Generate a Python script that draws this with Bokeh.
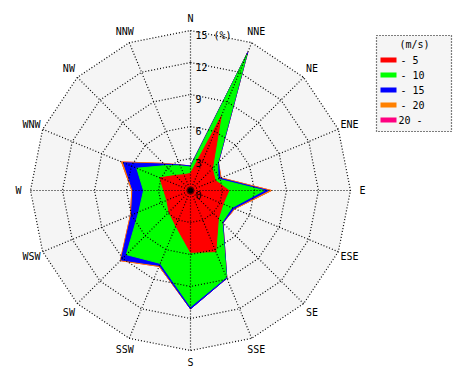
import numpy as np
from bokeh.plotting import figure
from bokeh.models import Range1d
from bokeh.core.properties import value
from bokeh.embed import file_html
from bokeh.resources import INLINE

# ---- data (frequency %, per wind-speed class) ----
directions = ["N", "NNE", "NE", "ENE", "E", "ESE", "SE", "SSE",
              "S", "SSW", "SW", "WSW", "W", "WNW", "NW", "NNW"]
speed_0_5 = [1.6, 7.5, 2.9, 2.5, 3.6, 3.3, 3.7, 6.2, 5.8, 3.6, 2.85, 2.4, 2.5, 3.1, 2.0, 1.6]
speed_5_10 = [0.6, 6.3, 0.7, 0.3, 3.3, 0.9, 0.5, 2.6, 5.1, 3.8, 5.65, 2.85, 1.9, 2.35, 1.3, 0.9]
speed_10_15 = [0.1, 0.2, 0.1, 0.2, 0.4, 0.2, 0.1, 0.1, 0.2, 0.2, 0.7, 0.75, 1.0, 1.35, 0.2, 0.1]
speed_15_20 = [0.0, 0.0, 0.0, 0.1, 0.3, 0.1, 0.0, 0.0, 0.0, 0.1, 0.1, 0.1, 0.1, 0.2, 0.1, 0.0]
speed_20_up = [0.0] * 16
class_labels = ["- 5", "- 10", "- 15", "- 20", "20 -"]
class_colors = ["#ff0000", "#00ff00", "#0000ff", "#ff8000", "#ff0080"]
ring_values = [3, 6, 9, 12, 15]
ring_labels = ["3", "6", "9", "12", "15 (%)"]

# ---- geometry ----
W, H = 462, 372
CX, CY = 190, 190          # centre in frame pixels
K = 160 / 15               # pixels per percent

def P(xs, ys):
    return ((xs - CX) / K, (CY - ys) / K)

p = figure(width=W, height=H, output_backend="svg", toolbar_location=None,
           x_range=Range1d(-CX / K, (W - CX) / K),
           y_range=Range1d(-(H - CY) / K, CY / K),
           min_border=0, outline_line_color=None)
p.axis.visible = False
p.grid.visible = False
p.background_fill_color = "white"
p.border_fill_color = "white"

theta = np.deg2rad(np.arange(16) * 22.5)
sx, cy_ = np.sin(theta), np.cos(theta)

def ring(r):
    return list(r * sx) + [r * sx[0]], list(r * cy_) + [r * cy_[0]]

# background disc (16-gon)
bx, by = ring(15)
p.patch(bx, by, fill_color="#f5f5f5", line_color=None)

# stacked rose
classes = [speed_0_5, speed_5_10, speed_10_15, speed_15_20, speed_20_up]
cum = np.cumsum(np.array(classes), axis=0)
for i in range(4, -1, -1):
    r = cum[i]
    p.patch(list(r * sx), list(r * cy_), fill_color=class_colors[i],
            line_color=class_colors[i], line_width=1)

# grid rings and spokes
for rv in ring_values:
    gx, gy = ring(rv)
    p.line(gx, gy, line_color="black", line_dash="1 2", line_width=1.2)
for i in range(16):
    p.line([0, 15 * sx[i]], [0, 15 * cy_[i]], line_color="black",
           line_dash="1 2", line_width=1.2)
p.scatter([0], [0], size=5, color="black")

# direction labels
R = 172 / K
p.text(list(R * sx), list(R * cy_), text=directions,
       text_align="center", text_baseline="middle",
       text_font=value("DejaVu Sans Mono"), text_font_size="10px",
       text_color="black")

# ring value labels
p.text([5 / K] * 6, [0 - 4.5 / K] + [rv - 4.5 / K for rv in ring_values],
       text=["0"] + ring_labels, text_align="left", text_baseline="middle",
       text_font=value("DejaVu Sans Mono"), text_font_size="10px",
       text_color="black")

# legend box
l, t = P(376, 35)
rr, b = P(451, 131)
p.quad(left=[l], right=[rr], top=[t], bottom=[b], fill_color="#f5f5f5",
       line_color="black", line_dash="1 2", line_width=1.2)
tx, ty = P(414, 44)
p.text([tx], [ty], text=["(m/s)"], text_align="center", text_baseline="middle",
       text_font=value("DejaVu Sans Mono"), text_font_size="10px")
for i, (lab, col) in enumerate(zip(class_labels, class_colors)):
    yrow = 59.5 + 15 * i
    ql, qt = P(380, yrow - 2.5)
    qr, qb = P(396, yrow + 2.5)
    p.quad(left=[ql], right=[qr], top=[qt], bottom=[qb], fill_color=col, line_color=None)
    lx, ly = P(400 if lab.startswith("-") else 398, yrow)
    p.text([lx], [ly], text=[lab], text_align="left", text_baseline="middle",
           text_font=value("DejaVu Sans Mono"), text_font_size="10px")

open("out.html", "w").write(file_html(p, INLINE))
